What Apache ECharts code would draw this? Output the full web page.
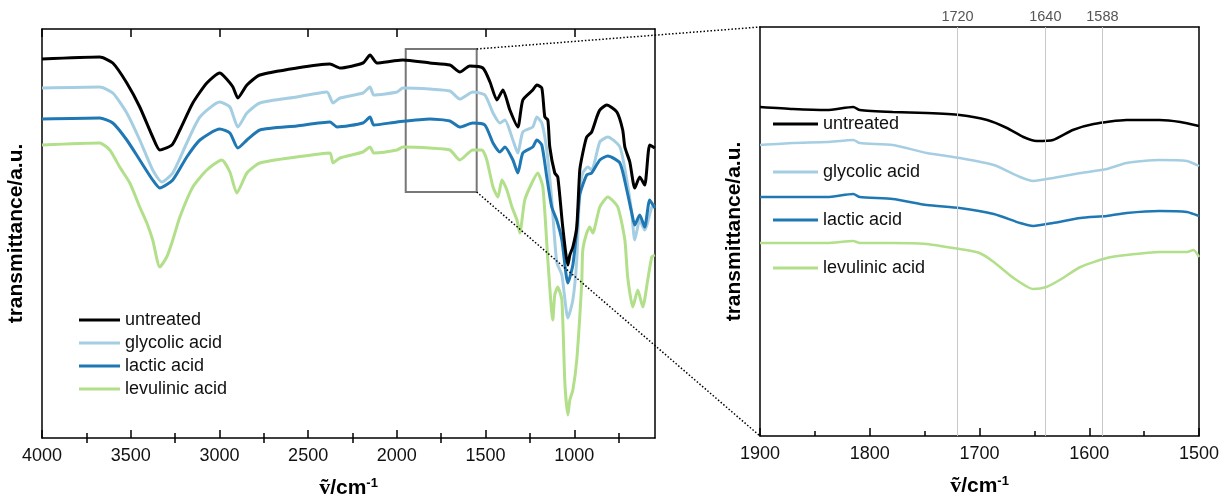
<!DOCTYPE html>
<html><head><meta charset="utf-8">
<script src="https://cdn.jsdelivr.net/npm/echarts@6/dist/echarts.min.js"></script>
<style>html,body{margin:0;padding:0;background:#fff}#c{width:1226px;height:504px}</style>
</head><body><div id="c"></div>
<script>
// ---------- DATA ----------
const seriesNames = ['untreated', 'glycolic acid', 'lactic acid', 'levulinic acid'];
const seriesColors = ['#000000', '#a6cee3', '#1f78b4', '#b2df8a'];

// Full spectra [wavenumber cm-1, transmittance a.u.]
const fullUntreated = [[4000,379],[3675,381],[3601,375],[3522,355],[3449,331],[3376,301],[3336,288],[3268,293],[3223,308],[3150,335],[3071,355],[2998,365],[2970,361],[2924,351],[2896,340],[2845,353],[2772,363],[2564,370],[2377,374],[2321,370],[2191,375],[2151,383],[2112,375],[2022,377],[1966,378],[1814,375],[1701,373],[1645,366],[1589,372],[1515,370],[1475,356],[1436,338],[1402,348],[1363,328],[1318,311],[1290,338],[1234,348],[1211,353],[1183,350],[1166,321],[1149,318],[1138,291],[1110,265],[1093,261],[1065,211],[1036,173],[1025,183],[1008,191],[986,211],[969,268],[952,285],[930,301],[902,306],[873,321],[856,328],[817,333],[760,326],[727,308],[715,291],[687,276],[659,250],[631,261],[603,253],[575,293],[546,290]];
const fullGlycolic = [[4000,350],[3675,351],[3601,345],[3522,325],[3449,298],[3376,268],[3325,256],[3263,265],[3184,295],[3110,321],[2998,336],[2941,331],[2896,311],[2845,325],[2772,335],[2564,341],[2394,346],[2360,335],[2321,340],[2191,345],[2151,351],[2130,343],[1999,346],[1966,350],[1814,349],[1701,347],[1645,339],[1572,346],[1504,343],[1458,325],[1419,315],[1391,318],[1346,298],[1318,285],[1290,306],[1234,311],[1211,321],[1183,315],[1155,288],[1127,238],[1099,176],[1070,163],[1036,120],[1008,138],[986,178],[969,248],[952,265],[924,271],[902,268],[856,296],[811,301],[743,291],[704,258],[676,225],[659,198],[631,218],[603,208],[563,231],[546,233]];
const fullLactic = [[4000,319],[3675,320],[3601,315],[3522,298],[3449,278],[3376,258],[3336,250],[3263,258],[3184,281],[3110,298],[2998,309],[2941,305],[2896,290],[2845,298],[2772,308],[2564,312],[2377,316],[2337,311],[2191,315],[2151,321],[2130,313],[1999,316],[1814,319],[1701,317],[1645,311],[1572,315],[1504,313],[1458,295],[1419,286],[1391,291],[1346,278],[1318,265],[1290,285],[1234,291],[1211,298],[1183,293],[1155,261],[1127,231],[1099,218],[1070,198],[1036,155],[1008,173],[986,208],[969,243],[930,263],[902,265],[856,278],[811,282],[743,275],[704,248],[676,225],[659,213],[631,223],[603,211],[575,238],[546,230]];
const fullLevulinic = [[4000,293],[3675,295],[3618,288],[3562,271],[3505,255],[3449,231],[3409,215],[3376,198],[3336,171],[3297,181],[3263,198],[3223,221],[3150,251],[3071,268],[2987,278],[2941,266],[2902,245],[2845,265],[2772,275],[2564,281],[2377,285],[2360,275],[2321,280],[2191,286],[2151,291],[2130,285],[1999,288],[1966,291],[1814,290],[1701,288],[1645,278],[1572,288],[1520,288],[1493,278],[1458,251],[1430,241],[1408,258],[1380,248],[1351,231],[1323,218],[1307,205],[1279,238],[1239,255],[1206,265],[1177,251],[1149,178],[1121,118],[1110,143],[1093,151],[1070,138],[1053,55],[1036,23],[1025,38],[1008,48],[986,78],[958,155],[952,188],[930,205],[913,211],[896,205],[856,231],[811,241],[755,231],[715,198],[699,161],[670,131],[642,148],[614,131],[586,158],[563,181],[546,183]];

// Zoomed spectra 1900-1500 cm-1
const zoomUntreated = [[1900,329],[1870,327],[1839,326],[1815,329],[1809,326],[1779,324],[1748,323],[1718,321],[1693,316],[1675,308],[1660,299],[1648,295],[1633,296],[1615,306],[1596,312],[1566,316],[1536,316],[1517,314],[1500,310]];
const zoomGlycolic = [[1900,291],[1870,293],[1839,294],[1815,296],[1809,293],[1779,291],[1748,283],[1718,278],[1687,271],[1663,259],[1651,255],[1633,258],[1608,263],[1584,267],[1566,273],[1536,276],[1511,275],[1500,270]];
const zoomLactic = [[1900,239],[1870,239],[1839,239],[1815,242],[1809,239],[1779,237],[1748,231],[1718,228],[1687,222],[1663,213],[1651,210],[1633,213],[1608,218],[1584,220],[1566,223],[1536,225],[1511,224],[1500,220]];
const zoomLevulinic = [[1900,193],[1870,193],[1839,193],[1815,195],[1809,193],[1779,193],[1748,192],[1730,189],[1718,187],[1700,183],[1687,174],[1669,158],[1651,147],[1639,149],[1627,156],[1608,169],[1584,178],[1566,181],[1536,184],[1511,184],[1505,186],[1500,179]];

const fullRange = [545, 4000];
const zoomRange = [1500, 1900];
const yRange = [0, 409];
const fullMajorTicks = [4000, 3500, 3000, 2500, 2000, 1500, 1000];
const fullMinorTicks = [3750, 3250, 2750, 2250, 1750, 1250, 750];
const markerLines = [1720, 1640, 1588];
const zoomBoxX = [1950, 1550];
const zoomBoxY = [246, 389];

// ---------- CHART ----------
const FONT = '"Liberation Sans", Arial, sans-serif';
const fullData = [fullUntreated, fullGlycolic, fullLactic, fullLevulinic];
const zoomData = [zoomUntreated, zoomGlycolic, zoomLactic, zoomLevulinic];
const axLine = { show: true, onZero: false, lineStyle: { color: '#000', width: 1.5 } };
const plainNum = v => String(v);
const xTitle = {
  name: '{v|ṽ}{t|/cm}{s|-1}',
  nameLocation: 'middle',
  nameGap: 39,
  nameTextStyle: {
    rich: {
      v: { fontFamily: '"Liberation Serif", serif', fontWeight: 'bold', fontSize: 22, color: '#000', verticalAlign: 'bottom' },
      t: { fontFamily: FONT, fontWeight: 'bold', fontSize: 21, color: '#000', verticalAlign: 'bottom' },
      s: { fontFamily: FONT, fontWeight: 'bold', fontSize: 13, color: '#000', verticalAlign: 'top' }
    }
  }
};
const yTitle = {
  name: 'transmittance/a.u.',
  nameLocation: 'middle',
  nameGap: 15,
  nameTextStyle: { fontFamily: FONT, fontWeight: 'bold', fontSize: 21, color: '#000' }
};
const noTick = { show: false };
const noLabel = { show: false };
const noSplit = { show: false };

function tickAxis(grid, pos, values, len, showLine, showLabel) {
  return {
    gridIndex: grid, type: 'value', min: fullRange[0], max: fullRange[1], inverse: true, position: pos,
    axisLine: showLine ? axLine : { show: false },
    axisTick: { show: true, inside: true, length: len, customValues: values, lineStyle: { color: '#000', width: 1.5 } },
    axisLabel: showLabel ? { show: true, customValues: values, formatter: plainNum, fontSize: 18, color: '#111', margin: 9, fontFamily: FONT } : noLabel,
    splitLine: noSplit
  };
}

const xAxes = [
  Object.assign(tickAxis(0, 'bottom', fullMajorTicks, 8, true, true), xTitle),
  tickAxis(0, 'bottom', fullMinorTicks, 5, false, false),
  tickAxis(0, 'top', fullMajorTicks, 8, true, false),
  tickAxis(0, 'top', fullMinorTicks, 5, false, false),
  Object.assign({
    gridIndex: 1, type: 'value', min: zoomRange[0], max: zoomRange[1], interval: 100, inverse: true, position: 'bottom',
    axisLine: axLine,
    axisTick: { show: true, inside: true, length: 8, lineStyle: { color: '#000', width: 1.5 } },
    minorTick: { show: true, splitNumber: 2, length: 5, lineStyle: { color: '#000', width: 1.5 } },
    axisLabel: { fontSize: 18, color: '#111', margin: 9, fontFamily: FONT, formatter: plainNum },
    splitLine: noSplit
  }, xTitle),
  { gridIndex: 1, type: 'value', min: zoomRange[0], max: zoomRange[1], inverse: true, position: 'top',
    axisLine: axLine, axisTick: noTick, axisLabel: noLabel, splitLine: noSplit }
];

function yAx(grid, pos, titled) {
  const a = { gridIndex: grid, type: 'value', min: yRange[0], max: yRange[1], position: pos,
    axisLine: axLine, axisTick: noTick, axisLabel: noLabel, splitLine: noSplit };
  return titled ? Object.assign(a, yTitle) : a;
}
const yAxes = [yAx(0, 'left', true), yAx(0, 'right', false), yAx(1, 'left', true), yAx(1, 'right', false)];

const order = [3, 1, 2, 0];
const series = [];
order.forEach(i => {
  series.push({
    type: 'line', name: seriesNames[i], xAxisIndex: 0, yAxisIndex: 0, data: fullData[i],
    showSymbol: false, symbol: 'none', smooth: 0.2,
    lineStyle: { width: 3, color: seriesColors[i] }, itemStyle: { color: seriesColors[i] }, z: 3
  });
});
order.forEach(i => {
  series.push({
    type: 'line', name: seriesNames[i], xAxisIndex: 4, yAxisIndex: 2, data: zoomData[i],
    showSymbol: false, symbol: 'none', smooth: 0.2,
    lineStyle: { width: 2.5, color: seriesColors[i] }, itemStyle: { color: seriesColors[i] }, z: 3
  });
});
// zoom box in left panel
series[0].markArea = {
  silent: true,
  itemStyle: { color: 'rgba(0,0,0,0)', borderColor: '#777', borderWidth: 2 },
  data: [[{ xAxis: zoomBoxX[0], yAxis: zoomBoxY[0] }, { xAxis: zoomBoxX[1], yAxis: zoomBoxY[1] }]]
};
// vertical marker lines in right panel
series[4].markLine = {
  silent: true, symbol: ['none', 'none'], animation: false,
  lineStyle: { color: '#c8c8c8', width: 1, type: 'solid' },
  label: { show: true, position: 'end', formatter: p => String(p.value), fontSize: 14.5, color: '#555', fontFamily: FONT, distance: 3 },
  data: markerLines.map(v => ({ xAxis: v }))
};

const legendBase = {
  data: seriesNames, orient: 'vertical', icon: 'rect', itemHeight: 3, selectedMode: false, padding: 0,
  textStyle: { fontSize: 18, fontFamily: FONT, color: '#111' }
};

const chart = echarts.init(document.getElementById('c'), null, { renderer: 'canvas' });
chart.setOption({
  animation: false,
  backgroundColor: '#fff',
  grid: [
    { left: 42, top: 29, width: 613, height: 409 },
    { left: 760, top: 27, width: 439, height: 409 }
  ],
  xAxis: xAxes,
  yAxis: yAxes,
  legend: [
    Object.assign({}, legendBase, { left: 79, top: 311, itemWidth: 41, itemGap: 5 }),
    Object.assign({}, legendBase, { left: 773, top: 115, itemWidth: 45, itemGap: 30 })
  ],
  series: series
});

// dotted connector lines from the zoom box to the zoom panel
const a = chart.convertToPixel({ xAxisIndex: 0, yAxisIndex: 0 }, [zoomBoxX[1], zoomBoxY[1]]);
const b = chart.convertToPixel({ xAxisIndex: 4, yAxisIndex: 2 }, [zoomRange[1], yRange[1]]);
const c = chart.convertToPixel({ xAxisIndex: 0, yAxisIndex: 0 }, [zoomBoxX[1], zoomBoxY[0]]);
const d = chart.convertToPixel({ xAxisIndex: 4, yAxisIndex: 2 }, [zoomRange[1], yRange[0]]);
const dotted = { stroke: '#000', lineWidth: 1.5, lineDash: [1.5, 2] };
chart.setOption({
  graphic: [
    { type: 'line', silent: true, z: 10, shape: { x1: a[0], y1: a[1], x2: b[0], y2: b[1] }, style: dotted },
    { type: 'line', silent: true, z: 10, shape: { x1: c[0], y1: c[1], x2: d[0], y2: d[1] }, style: dotted }
  ]
});
</script>
</body></html>
